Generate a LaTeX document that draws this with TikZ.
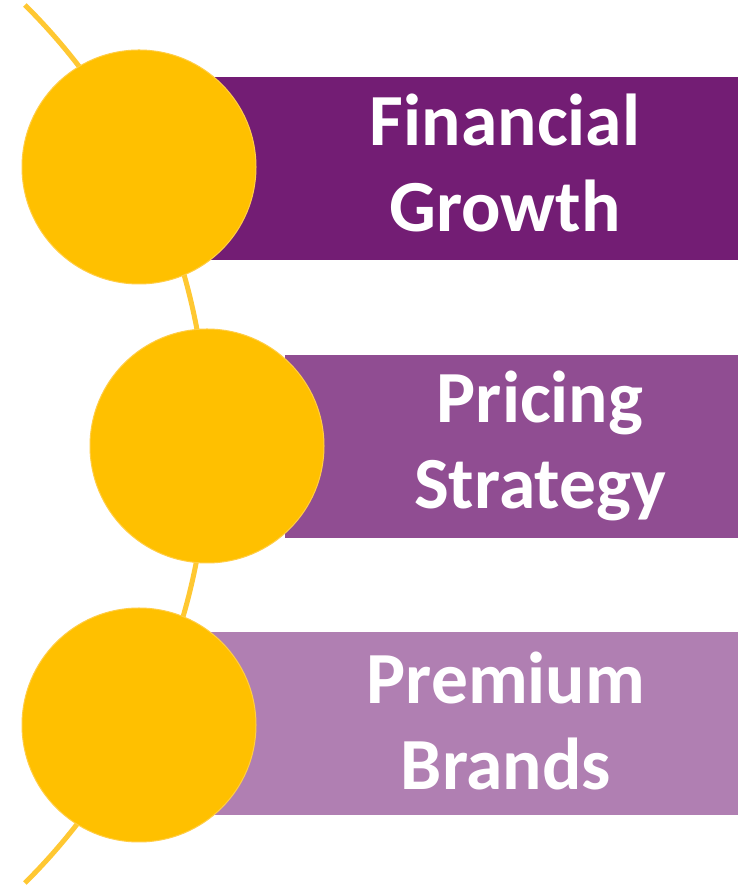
\documentclass[tikz,border=0pt]{standalone}
\usepackage{fontspec}
\setmainfont{Carlito}
\usetikzlibrary{calc}
\definecolor{gold}{RGB}{255,192,0}
\definecolor{goldedge}{RGB}{255,205,70}
\definecolor{arccol}{RGB}{255,200,50}
\definecolor{purA}{RGB}{115,29,116}
\definecolor{purB}{RGB}{144,77,146}
\definecolor{purC}{RGB}{176,127,178}
\begin{document}
\begin{tikzpicture}[x=1pt,y=1pt,
  bar/.style={rectangle, inner sep=0pt, minimum height=183pt, anchor=east},
  disc/.style={circle, fill=gold, draw=goldedge, line width=1pt, minimum size=234pt, inner sep=0pt},
  lbl/.style={text=white, font=\fontsize{73.5}{85.5}\selectfont\bfseries, align=center, inner sep=0pt}]
\useasboundingbox (0,0) rectangle (750,888);
\fill[white] (0,0) rectangle (750,888);
% background arc
\coordinate (arcstart) at ($(-411,444)+(45.2:618.7)$);
\draw[arccol, line width=5pt] (arcstart) arc[start angle=45.2, end angle=-45.2, radius=618.7];
% bars
\node[bar, fill=purA, minimum width=533pt] (r1) at (738,719.5) {};
\node[bar, fill=purB, minimum width=453pt] (r2) at (738,441.5) {};
\node[bar, fill=purC, minimum width=533pt] (r3) at (738,164) {};
% discs
\node[disc] (c1) at (139,721) {};
\node[disc] (c2) at (207,442) {};
\node[disc] (c3) at (139,163) {};
% labels
\node[lbl] (t1) at (505,725) {Financial\\Growth};
\node[lbl] (t2) at (540,442) {Pricing\\Strategy};
\node[lbl] (t3) at (506,167) {Premium\\Brands};
\end{tikzpicture}
\end{document}
